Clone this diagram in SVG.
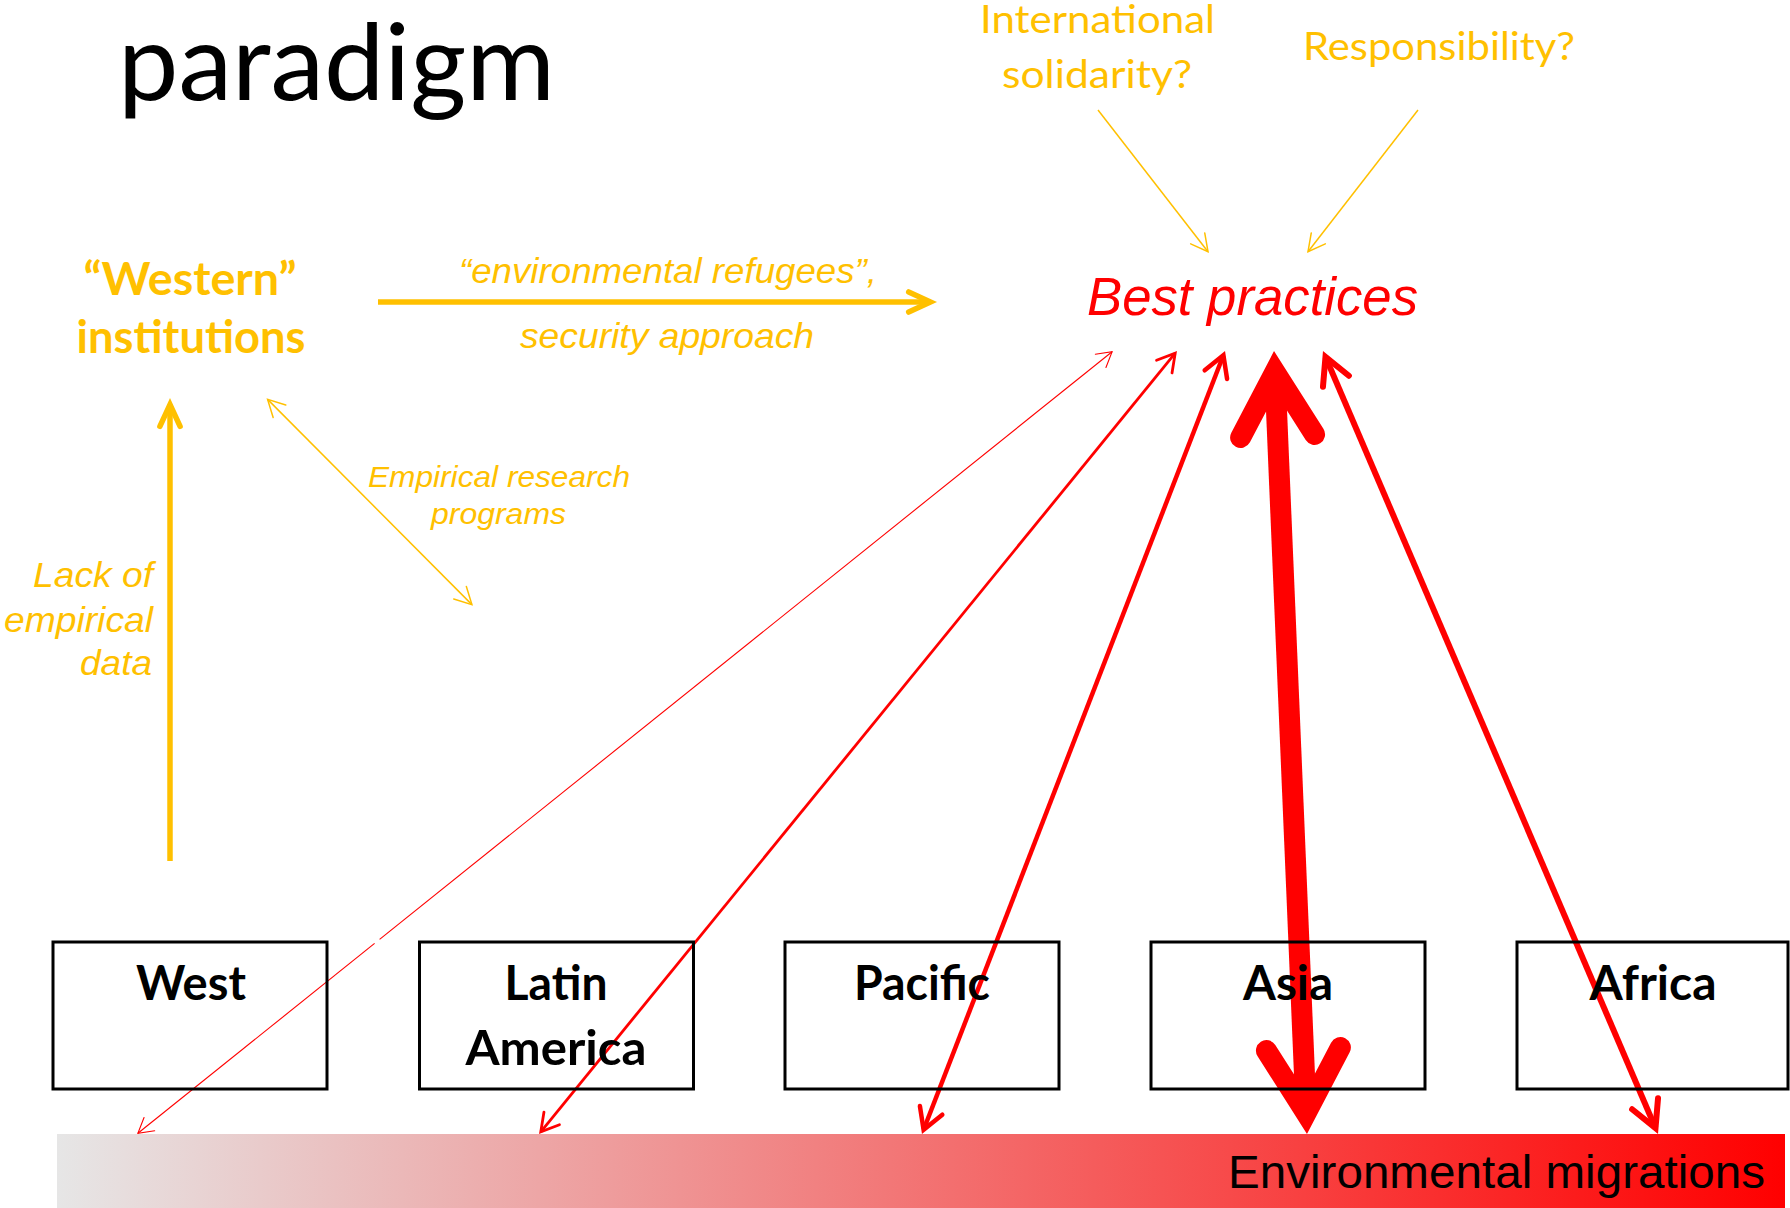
<svg xmlns="http://www.w3.org/2000/svg" width="1790" height="1208" viewBox="0 0 1790 1208">
<style>
.cal{font-family:Lato,"Open Sans","Liberation Sans",sans-serif}
.ari{font-family:"Liberation Sans",Arial,sans-serif}
.org{fill:#FFC000}
.red{fill:#FF0000}
.it{font-style:italic}
.bold{font-weight:bold}
.box{fill:none;stroke:#000;stroke-width:3}
.lbl{font-family:Lato,"Open Sans","Liberation Sans",sans-serif;font-weight:bold;font-size:47px;fill:#000;text-anchor:middle}
.ol{stroke:#FFC000;fill:none}
.rl{stroke:#FF0000;fill:none}
.mk{fill:none;stroke-linecap:round;stroke-linejoin:miter;stroke-miterlimit:20}
</style>
<defs>
<linearGradient id="grad" x1="0" y1="0" x2="1" y2="0">
<stop offset="0" stop-color="#E6E6E6"/>
<stop offset="1" stop-color="#FF0000"/>
</linearGradient>
<marker id="ow1" markerUnits="userSpaceOnUse" markerWidth="1" markerHeight="1" refX="0" refY="0" orient="auto-start-reverse" overflow="visible"><path class="mk" stroke="#FFC000" stroke-width="1.5" d="M-16.8,-8.9 L0,0 L-16.8,8.9"/></marker>
<marker id="ow5" markerUnits="userSpaceOnUse" markerWidth="1" markerHeight="1" refX="0" refY="0" orient="auto-start-reverse" overflow="visible"><path class="mk" stroke="#FFC000" stroke-width="5.5" d="M-21.8,-10.1 L0,0 L-21.8,10.1"/></marker>
<marker id="r1" markerUnits="userSpaceOnUse" markerWidth="1" markerHeight="1" refX="0" refY="0" orient="auto-start-reverse" overflow="visible"><path class="mk" stroke="#FF0000" stroke-width="1.1" d="M-14.7,-8.5 L0,0 L-14.7,8.5"/></marker>
<marker id="r3" markerUnits="userSpaceOnUse" markerWidth="1" markerHeight="1" refX="0" refY="0" orient="auto-start-reverse" overflow="visible"><path class="mk" stroke="#FF0000" stroke-width="2.8" d="M-17.3,-10 L0,0 L-17.3,10"/></marker>
<marker id="r45" markerUnits="userSpaceOnUse" markerWidth="1" markerHeight="1" refX="0" refY="0" orient="auto-start-reverse" overflow="visible"><path class="mk" stroke="#FF0000" stroke-width="4.5" d="M-20.8,-12 L0,0 L-20.8,12"/></marker>
<marker id="r6" markerUnits="userSpaceOnUse" markerWidth="1" markerHeight="1" refX="0" refY="0" orient="auto-start-reverse" overflow="visible"><path class="mk" stroke="#FF0000" stroke-width="6" d="M-26.5,-14.1 L0,0 L-26.5,14.1"/></marker>
<marker id="r21" markerUnits="userSpaceOnUse" markerWidth="1" markerHeight="1" refX="0" refY="0" orient="auto-start-reverse" overflow="visible"><path class="mk" stroke="#FF0000" stroke-width="21" d="M-64,-37 L0,0 L-64,37"/></marker>
</defs>
<rect width="1790" height="1208" fill="#FFFFFF"/>

<g id="title">
<text class="cal" x="118" y="100" font-size="106" textLength="437" lengthAdjust="spacingAndGlyphs" fill="#000">paradigm</text>
</g>

<g id="migrations-bar">
<rect x="57" y="1134" width="1728" height="74" fill="url(#grad)"/>
<text class="ari" x="1228" y="1188" font-size="47" textLength="537" lengthAdjust="spacingAndGlyphs" fill="#000">Environmental migrations</text>
</g>

<g id="connectors">
<path class="ol" stroke-width="5.5" d="M170,861 V404.5" marker-end="url(#ow5)"/>
<path class="ol" stroke-width="5.5" d="M378,302 H930.5" marker-end="url(#ow5)"/>
<path class="ol" stroke-width="1.5" d="M267.6,399.4 L471.9,604.6" marker-start="url(#ow1)" marker-end="url(#ow1)"/>
<path class="ol" stroke-width="1.5" d="M1098,110 L1208,251.7" marker-end="url(#ow1)"/>
<path class="ol" stroke-width="1.5" d="M1418,110 L1308,251.7" marker-end="url(#ow1)"/>
<path class="rl" stroke-width="1.1" d="M137.9,1133.3 L374.6,943.4" marker-start="url(#r1)"/>
<path class="rl" stroke-width="1.1" d="M379.6,939.4 L1112.1,351.7" marker-end="url(#r1)"/>
<path class="rl" stroke-width="2.8" d="M540.8,1131.8 L1175.2,353.2" marker-start="url(#r3)" marker-end="url(#r3)"/>
<path class="rl" stroke-width="4.5" d="M923.6,1129.8 L1223.4,355.2" marker-start="url(#r45)" marker-end="url(#r45)"/>
<path class="rl" stroke-width="21" d="M1306.1,1113 L1274.9,372" marker-start="url(#r21)" marker-end="url(#r21)"/>
<path class="rl" stroke-width="6" d="M1655.5,1128.1 L1325.5,356.9" marker-start="url(#r6)" marker-end="url(#r6)"/>
</g>

<g id="western-institutions">
<text class="cal bold org" x="190" y="295" font-size="45" text-anchor="middle" textLength="213" lengthAdjust="spacingAndGlyphs">“Western”</text>
<text class="cal bold org" x="191" y="353" font-size="45" text-anchor="middle" textLength="229" lengthAdjust="spacingAndGlyphs">institutions</text>
</g>

<g id="best-practices">
<text class="ari it red" x="1087" y="315" font-size="53" textLength="331" lengthAdjust="spacingAndGlyphs">Best practices</text>
</g>

<g id="international-solidarity">
<text class="cal org" x="1097.5" y="33" font-size="39" text-anchor="middle" textLength="235" lengthAdjust="spacingAndGlyphs">International</text>
<text class="cal org" x="1097" y="88" font-size="39" text-anchor="middle" textLength="190" lengthAdjust="spacingAndGlyphs">solidarity?</text>
</g>

<g id="responsibility">
<text class="cal org" x="1439" y="60" font-size="39" text-anchor="middle" textLength="272" lengthAdjust="spacingAndGlyphs">Responsibility?</text>
</g>

<g id="labels">
<text class="ari it org" x="668" y="283" font-size="35" text-anchor="middle" textLength="418" lengthAdjust="spacingAndGlyphs">“environmental refugees”,</text>
<text class="ari it org" x="667" y="348" font-size="35" text-anchor="middle" textLength="294" lengthAdjust="spacingAndGlyphs">security approach</text>
<text class="ari it org" x="499" y="487" font-size="30" text-anchor="middle" textLength="262" lengthAdjust="spacingAndGlyphs">Empirical research</text>
<text class="ari it org" x="498.5" y="524" font-size="30" text-anchor="middle" textLength="135" lengthAdjust="spacingAndGlyphs">programs</text>
<text class="ari it org" x="153" y="587" font-size="35" text-anchor="end" textLength="120" lengthAdjust="spacingAndGlyphs">Lack of</text>
<text class="ari it org" x="153" y="632" font-size="35" text-anchor="end" textLength="149" lengthAdjust="spacingAndGlyphs">empirical</text>
<text class="ari it org" x="152" y="675" font-size="35" text-anchor="end" textLength="72" lengthAdjust="spacingAndGlyphs">data</text>
</g>

<g id="west">
<rect class="box" x="53" y="942" width="274" height="147"/>
<text class="lbl" x="191" y="1000" textLength="110" lengthAdjust="spacingAndGlyphs">West</text>
</g>
<g id="latin-america">
<rect class="box" x="419.5" y="942" width="274" height="147"/>
<text class="lbl" x="556" y="1000" textLength="103" lengthAdjust="spacingAndGlyphs">Latin</text>
<text class="lbl" x="556" y="1065" textLength="181" lengthAdjust="spacingAndGlyphs">America</text>
</g>
<g id="pacific">
<rect class="box" x="785" y="942" width="274" height="147"/>
<text class="lbl" x="922" y="1000" textLength="136" lengthAdjust="spacingAndGlyphs">Pacific</text>
</g>
<g id="asia">
<rect class="box" x="1151" y="942" width="274" height="147"/>
<text class="lbl" x="1288" y="1000" textLength="90" lengthAdjust="spacingAndGlyphs">Asia</text>
</g>
<g id="africa">
<rect class="box" x="1517" y="942" width="271" height="147"/>
<text class="lbl" x="1653" y="1000" textLength="127" lengthAdjust="spacingAndGlyphs">Africa</text>
</g>
</svg>
